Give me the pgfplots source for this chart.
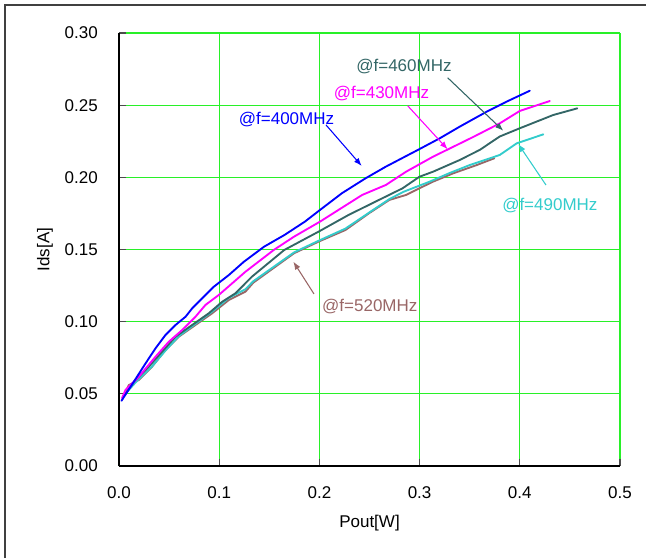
\documentclass[border=0pt]{standalone}
\usepackage{pgfplots}
\pgfplotsset{compat=1.18}
\usepackage{fontspec}
\setmainfont{Liberation Sans}
\usetikzlibrary{arrows.meta}
\definecolor{c400}{RGB}{0,0,255}
\definecolor{c430}{RGB}{255,0,255}
\definecolor{c460}{RGB}{51,102,102}
\definecolor{c490}{RGB}{51,204,204}
\definecolor{c520}{RGB}{153,102,102}
\definecolor{gridgreen}{RGB}{40,240,40}
\begin{document}
\begin{tikzpicture}[x=0.75pt,y=0.75pt]
\def\px{0.75pt}
\useasboundingbox (-119*\px,-92*\px) rectangle (527*\px,466*\px);
\draw[line width=1.5pt,black!75] (-114*\px,-92*\px) -- (-114*\px,461*\px) -- (527*\px,461*\px);
\begin{axis}[
  at={(0,0)}, anchor=south west,
  scale only axis,
  width=375.75pt, height=324.75pt,
  xmin=0, xmax=0.5, ymin=0, ymax=0.3,
  axis x line*=bottom, axis y line*=left,
  axis line style={black, line width=0.9pt},
  xtick={0,0.1,0.2,0.3,0.4,0.5},
  xticklabels={0.0,0.1,0.2,0.3,0.4,0.5},
  ytick={0,0.05,0.1,0.15,0.2,0.25,0.3},
  yticklabels={0.00,0.05,0.10,0.15,0.20,0.25,0.30},
  tick align=inside,
  major tick length=5pt,
  tick style={black!70, line width=0.8pt},
  grid=major,
  major grid style={gridgreen, line width=0.9pt},
  font=\fontsize{12.75}{15}\selectfont,
  yticklabel style={anchor=east, inner sep=0pt, xshift=-21*\px},
  xticklabel style={anchor=center, inner sep=0pt, yshift=-27*\px},
  xlabel={Pout[W]}, ylabel={Ids[A]},
  every axis x label/.style={at={(axis description cs:0.5,-0.1316)}, anchor=center},
  every axis y label/.style={at={(axis description cs:-0.1477,0.5)}, rotate=90, anchor=center},
  every axis plot/.append style={line join=round, line cap=round},
  clip=false,
]
% 520 MHz
\addplot[c520, line width=1.4pt, no markers] coordinates {
(0.006,0.0504) (0.0098,0.0561) (0.0198,0.0596) (0.033,0.0688) (0.0464,0.0804)
(0.0597,0.0896) (0.0763,0.0977) (0.093,0.1058) (0.1096,0.115) (0.1262,0.1208)
(0.134,0.127) (0.1747,0.1474) (0.199,0.1554) (0.226,0.1635) (0.2495,0.1751)
(0.2697,0.1843) (0.2865,0.1878) (0.2998,0.1924) (0.3134,0.197) (0.3336,0.2028)
(0.357,0.2085) (0.3746,0.2132)};
% 490 MHz
\addplot[c490, line width=1.4pt, no markers] coordinates {
(0.005,0.049) (0.018,0.059) (0.033,0.069) (0.0464,0.080) (0.0597,0.090)
(0.0763,0.0985) (0.093,0.107) (0.1096,0.1165) (0.1262,0.1225) (0.134,0.128)
(0.1747,0.148) (0.199,0.156) (0.226,0.1645) (0.2495,0.1755) (0.270,0.185)
(0.284,0.190) (0.310,0.197) (0.330,0.203) (0.350,0.2085) (0.380,0.2155)
(0.397,0.2236) (0.407,0.2259) (0.4235,0.2298)};
% 460 MHz
\addplot[c460, line width=1.4pt, no markers] coordinates {
(0.004,0.048) (0.0165,0.0596) (0.0297,0.0688) (0.043,0.0792) (0.0564,0.0896)
(0.073,0.0977) (0.0896,0.1058) (0.103,0.1138) (0.1163,0.1197) (0.1327,0.1312)
(0.165,0.1497) (0.199,0.1623) (0.229,0.1739) (0.2593,0.1843) (0.283,0.1924)
(0.2998,0.2004) (0.3134,0.2039) (0.340,0.2120) (0.360,0.219) (0.380,0.2283)
(0.400,0.2340) (0.4334,0.2432) (0.4574,0.2478)};
% 430 MHz
\addplot[c430, line width=1.4pt, no markers] coordinates {
(0.003,0.047) (0.0065,0.0527) (0.0198,0.0619) (0.0364,0.0757) (0.0497,0.0861)
(0.063,0.0942) (0.0763,0.1034) (0.0863,0.1116) (0.0996,0.1185) (0.113,0.1266)
(0.1262,0.1346) (0.1545,0.1497) (0.1747,0.1589) (0.2006,0.1693) (0.219,0.1774)
(0.2427,0.1878) (0.2663,0.1947) (0.2865,0.2039) (0.3134,0.2143) (0.3536,0.228)
(0.380,0.2374) (0.400,0.2460) (0.430,0.2529)};
% 400 MHz
\addplot[c400, line width=1.4pt, no markers] coordinates {
(0.0025,0.0452) (0.0148,0.0584) (0.0265,0.0711) (0.0364,0.0815) (0.0464,0.0908)
(0.0564,0.0977) (0.0664,0.1034) (0.073,0.1092) (0.083,0.1162) (0.0946,0.1242)
(0.1096,0.1323) (0.1246,0.1415) (0.1449,0.152) (0.165,0.160) (0.1855,0.1693)
(0.2006,0.1774) (0.2225,0.189) (0.246,0.1993) (0.2663,0.2074) (0.2983,0.219)
(0.320,0.227) (0.340,0.2351) (0.367,0.2455) (0.387,0.2525) (0.410,0.260)};
% annotations
\draw[c400, line width=0.8pt, -{Latex[length=6pt,width=4.5pt]}] (axis cs:0.2066,0.2363) -- (axis cs:0.2422,0.2079);
\draw[c460, line width=0.8pt, -{Latex[length=6pt,width=4.5pt]}] (axis cs:0.328,0.269) -- (axis cs:0.3835,0.2323);
\draw[c430, line width=0.8pt, -{Latex[length=6pt,width=4.5pt]}] (axis cs:0.2881,0.2496) -- (axis cs:0.328,0.2194);
\draw[c490, line width=0.8pt, -{Latex[length=6pt,width=4.5pt]}] (axis cs:0.4261,0.1947) -- (axis cs:0.3985,0.2231);
\draw[c520, line width=0.8pt, -{Latex[length=6pt,width=4.5pt]}] (axis cs:0.1946,0.1192) -- (axis cs:0.174,0.1416);
\node[c400, anchor=center, inner sep=0pt] at (axis cs:0.1672,0.2404) {@f=400MHz};
\node[c460, anchor=center, inner sep=0pt] at (axis cs:0.2844,0.2771) {@f=460MHz};
\node[c430, anchor=center, inner sep=0pt] at (axis cs:0.262,0.2584) {@f=430MHz};
\node[c490, anchor=center, inner sep=0pt] at (axis cs:0.430,0.1808) {@f=490MHz};
\node[c520, anchor=center, inner sep=0pt] at (axis cs:0.2503,0.1104) {@f=520MHz};
\end{axis}
\end{tikzpicture}
\end{document}
